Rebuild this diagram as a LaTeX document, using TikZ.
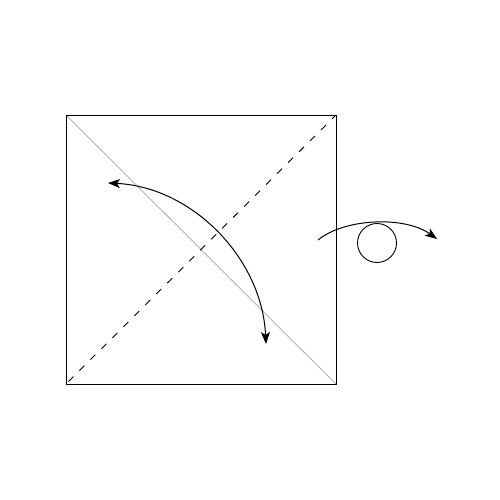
\documentclass[tikz,border=0pt]{standalone}
\usetikzlibrary{arrows.meta}
\begin{document}
\begin{tikzpicture}[x=1pt,y=-1pt,
  edge/.style={line width=0.9pt,black},
  crease/.style={line width=0.9pt,black!30},
  valley/.style={line width=0.9pt,black,dash pattern=on 7pt off 8.5pt,dash phase=12pt},
  tip/.style={},
  arr/.style={line width=1pt,black,-{Stealth[length=12pt,width=9pt,inset=3pt]}},
  darr/.style={line width=1pt,black,{Stealth[length=12pt,width=9pt,inset=3pt]}-{Stealth[length=12pt,width=9pt,inset=3pt]}}]
\useasboundingbox (0,0) rectangle (500,500);
\coordinate (tl) at (66,115);
\coordinate (tr) at (336,115);
\coordinate (br) at (336,384);
\coordinate (bl) at (66,384);
\draw[crease] (tl) -- (br);
\draw[valley] (bl) -- (tr);
\draw[edge] (tl) -- (tr) -- (br) -- (bl) -- cycle;
\coordinate (a1) at (108,183);
\coordinate (a2) at (266,344);
\draw[darr] (a1) .. controls (192,187) and (262,258) .. (a2);
\node[draw,circle,line width=0.9pt,minimum size=39pt,inner sep=0pt] (c) at (377,243) {};
\coordinate (b1) at (318,240);
\coordinate (b2) at (437,239);
\draw[arr] (b1) .. controls (345,218) and (405,216) .. (b2);
\end{tikzpicture}
\end{document}
